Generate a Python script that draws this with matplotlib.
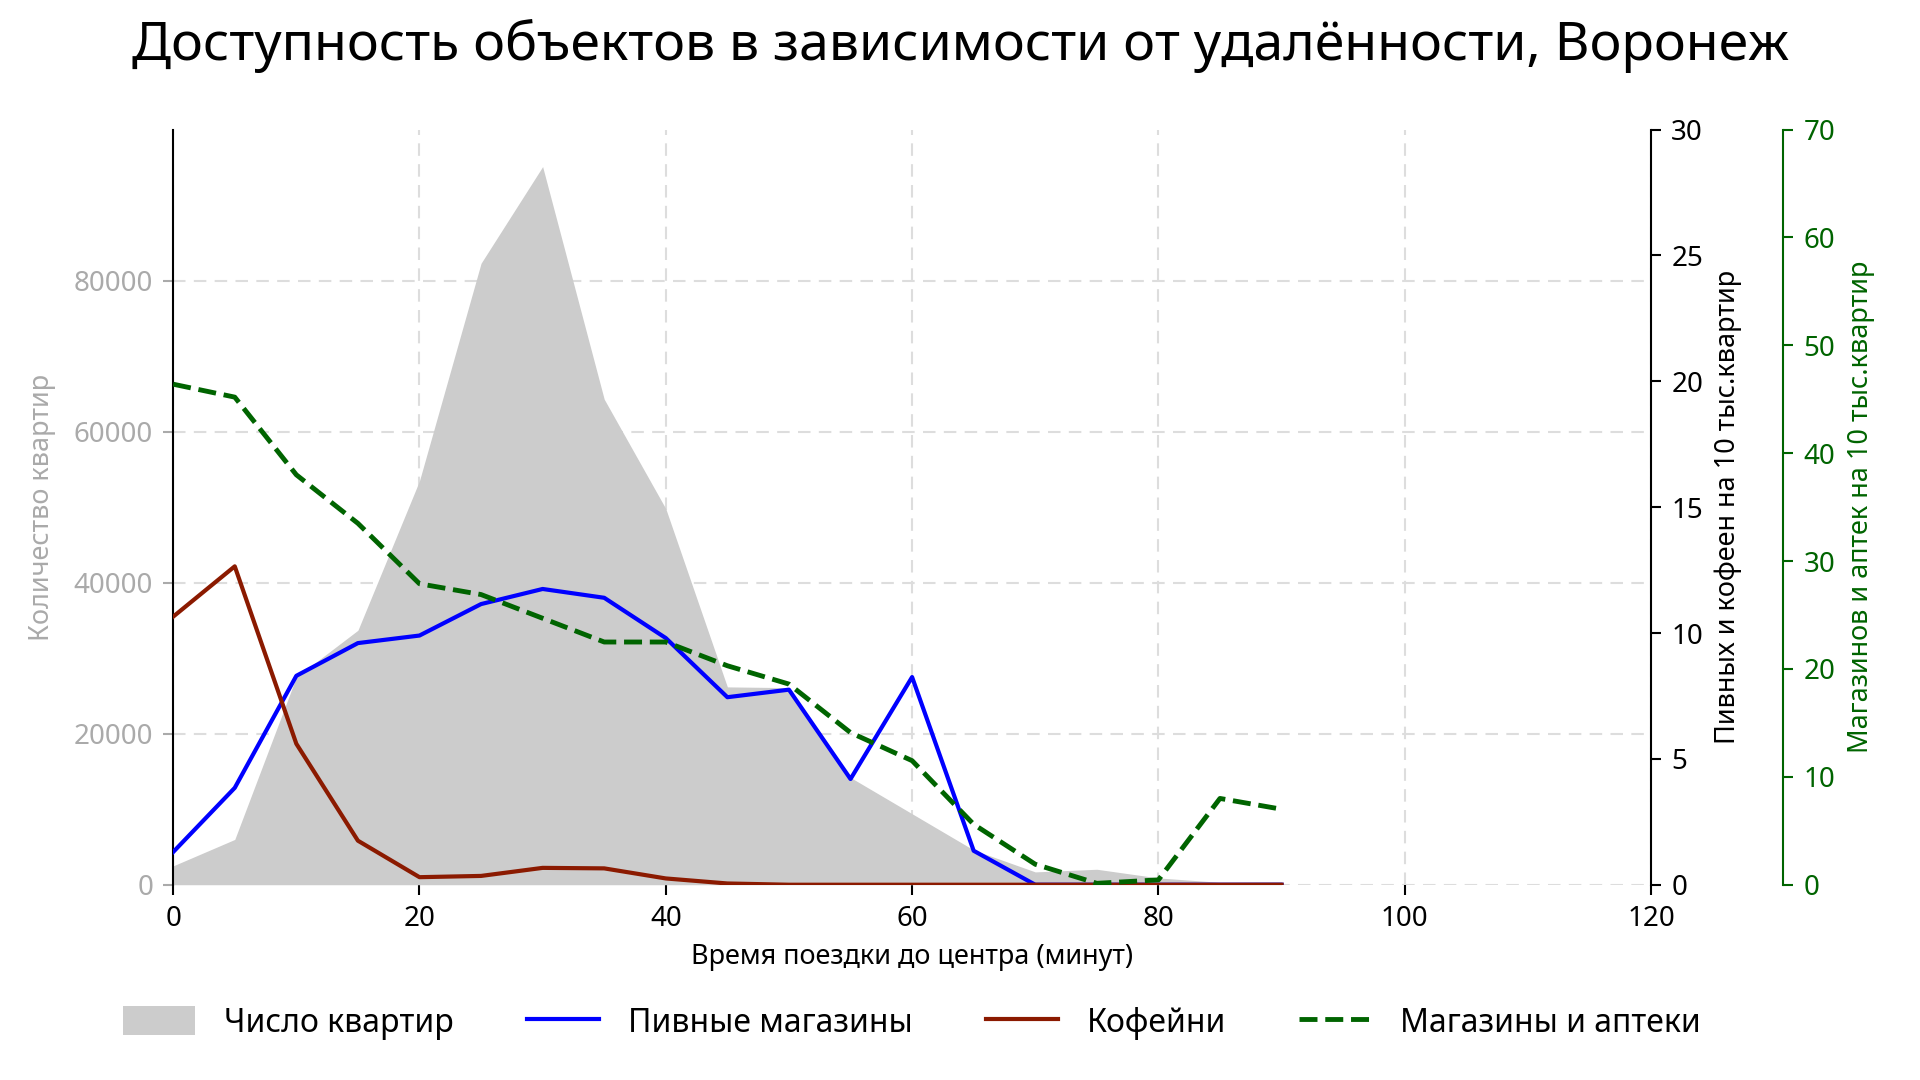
import matplotlib
matplotlib.use("Agg")
import matplotlib.pyplot as plt
from matplotlib.patches import Patch
from matplotlib.lines import Line2D

plt.rcParams['font.family'] = ['Noto Sans', 'DejaVu Sans']

minutes = [0, 5, 10, 15, 20, 25, 30, 35, 40, 45, 50, 55, 60, 65, 70, 75, 80, 85, 90]
apartments = [2500, 6000, 27500, 33700, 53500, 82300, 95100, 64300, 49800, 26200,
              26100, 14200, 9400, 4600, 1700, 2050, 900, 320, 400]
beer = [1.3, 3.85, 8.3, 9.6, 9.9, 11.15, 11.75, 11.4, 9.8, 7.45,
        7.75, 4.2, 8.25, 1.35, 0, 0, 0, 0, 0]
coffee = [10.65, 12.65, 5.6, 1.75, 0.3, 0.35, 0.67, 0.65, 0.25, 0.05,
          0, 0, 0, 0, 0, 0, 0, 0, 0]
shops = [46.4, 45.2, 38.0, 33.5, 27.9, 26.9, 24.7, 22.5, 22.5, 20.3,
         18.6, 14.1, 11.5, 5.6, 1.9, 0.13, 0.45, 8.0, 7.0]

x_ticks = [0, 20, 40, 60, 80, 100, 120]
left_ticks = [0, 20000, 40000, 60000, 80000]
right1_ticks = [0, 5, 10, 15, 20, 25, 30]
right2_ticks = [0, 10, 20, 30, 40, 50, 60, 70]

title = "Доступность объектов в зависимости от удалённости, Воронеж"
xlabel = "Время поездки до центра (минут)"
ylabel_left = "Количество квартир"
ylabel_r1 = "Пивных и кофеен на 10 тыс.квартир"
ylabel_r2 = "Магазинов и аптек на 10 тыс.квартир"
legend_labels = ["Число квартир", "Пивные магазины", "Кофейни", "Магазины и аптеки"]

GREY_FILL = '#cccccc'
BLUE = '#0000ff'
RED = '#8b1a00'
GREEN = '#006400'
TICK_GREY = '#aaaaaa'
GRID = '#dddddd'

LW = 3.0
LW_G = 3.5

fig = plt.figure(figsize=(19.2, 10.8), dpi=100)
ax = fig.add_axes([0.0902, 0.1808, 0.7697, 0.6992])

ax.fill_between(minutes, apartments, 0, color=GREY_FILL, linewidth=0)
ax.set_xlim(0, 120)
ax.set_ylim(0, 100000)
ax.set_xticks(x_ticks)
ax.set_yticks(left_ticks)
ax.set_yticklabels([str(v) for v in left_ticks])
ax.grid(True, color=GRID, linestyle=(0, (6, 4)), linewidth=1.5)
ax.set_axisbelow(True)
for s in ['top', 'right', 'bottom']:
    ax.spines[s].set_visible(False)
ax.spines['left'].set_color('black')
ax.spines['left'].set_linewidth(1.5)
ax.tick_params(axis='x', colors='black', labelsize=20, length=7.5, width=1.5, pad=7)
ax.tick_params(axis='y', colors=TICK_GREY, labelsize=20, length=7.5, width=1.5, pad=7)
ax.set_xlabel(xlabel, fontsize=19.5)
ax.set_ylabel(ylabel_left, fontsize=19.5, color=TICK_GREY)
ax.xaxis.set_label_coords(0.5, -0.0958)
ax.xaxis.label.set_va('center')
ax.yaxis.set_label_coords(-0.0886, 0.5)
ax.yaxis.label.set_va('center')
ax.yaxis.label.set_ha('center')

ax2 = ax.twinx()
ax2.plot(minutes, beer, color=BLUE, linewidth=LW)
ax2.plot(minutes, coffee, color=RED, linewidth=LW)
ax2.set_ylim(0, 30)
ax2.set_yticks(right1_ticks)
for s in ['top', 'left', 'bottom']:
    ax2.spines[s].set_visible(False)
ax2.spines['right'].set_color('black')
ax2.spines['right'].set_linewidth(1.5)
ax2.tick_params(axis='y', colors='black', labelsize=20, length=7.5, width=1.5, pad=7)
ax2.set_ylabel(ylabel_r1, fontsize=19.5, color='black')
ax2.yaxis.set_label_coords(1.052, 0.5)
ax2.yaxis.label.set_va('center')
ax2.yaxis.label.set_ha('center')

ax3 = ax.twinx()
ax3.plot(minutes, shops, color=GREEN, linewidth=LW_G, linestyle='--')
ax3.set_ylim(0, 70)
ax3.set_yticks(right2_ticks)
ax3.spines['right'].set_position(('axes', 1.0895))
for s in ['top', 'left', 'bottom']:
    ax3.spines[s].set_visible(False)
ax3.spines['right'].set_color(GREEN)
ax3.spines['right'].set_linewidth(1.5)
ax3.tick_params(axis='y', colors=GREEN, labelsize=20, length=7.5, width=1.5, pad=7)
ax3.set_ylabel(ylabel_r2, fontsize=19.5, color=GREEN)
ax3.yaxis.set_label_coords(1.142, 0.5)
ax3.yaxis.label.set_va('center')
ax3.yaxis.label.set_ha('center')

fig.text(0.5, 1 - 46 / 1080, title, ha='center', va='center', fontsize=38.6)

handles = [
    Patch(facecolor=GREY_FILL, edgecolor='none'),
    Line2D([], [], color=BLUE, linewidth=LW),
    Line2D([], [], color=RED, linewidth=LW),
    Line2D([], [], color=GREEN, linewidth=LW_G, linestyle='--'),
]
ax.legend(handles, legend_labels, loc='center', bbox_to_anchor=(0.5, -0.183),
          ncol=4, frameon=False, fontsize=23, handlelength=2.25,
          handletextpad=0.9, columnspacing=2.3, handleheight=1.0)

fig.savefig('out.png', dpi=100)
